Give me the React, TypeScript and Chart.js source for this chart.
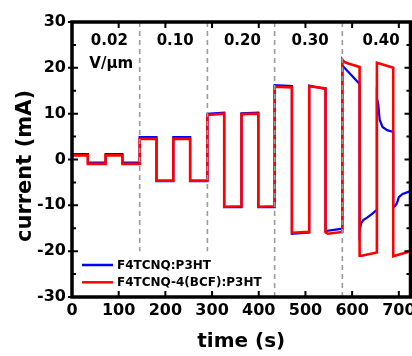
import { useEffect, useRef } from "react";
import { Chart, registerables } from "chart.js";

Chart.register(...registerables);

// ---- data ----
const blueLabel = "F4TCNQ:P3HT";
const redLabel = "F4TCNQ-4(BCF):P3HT";
const xTitle = "time (s)";
const yTitle = "current (mA)";

const blueTime = [
  0, 34, 34, 72, 72, 108, 108, 145,
  145, 181, 181, 217, 217, 253, 253, 290,
  290, 326, 326, 363, 363, 399, 399, 434,
  434, 471, 471, 508, 508, 543, 543, 579,
  579, 616, 616, 619, 624, 632, 640, 653, 653, 656, 659, 665, 675, 688, 688, 692, 696, 700, 708, 725,
];
const blueCurrent = [
  1.2, 1.2, -0.7, -0.7, 1.2, 1.2, -0.7, -0.7,
  4.9, 4.9, -4.75, -4.75, 4.9, 4.9, -4.75, -4.75,
  10.0, 10.2, -10.4, -10.4, 10.1, 10.2, -10.4, -10.4,
  16.2, 16.0, -16.2, -15.9, 16.1, 15.4, -15.6, -15.1,
  20.5, 16.5, -15.5, -14.0, -13.2, -12.7, -12.1, -11.0, 13.5, 12.0, 8.7, 7.1, 6.4, 6.0, -10.4, -10.2, -9.5, -8.2, -7.5, -6.9,
];

const redTime = [
  0, 34, 34, 72, 72, 108, 108, 145,
  145, 181, 181, 217, 217, 253, 253, 290,
  290, 326, 326, 363, 363, 399, 399, 434,
  434, 471, 471, 508, 508, 543, 543, 548, 579,
  579, 583, 590, 616, 616, 620, 653, 653, 688, 688, 725,
];
const redCurrent = [
  0.9, 0.9, -0.95, -0.95, 0.9, 0.9, -0.95, -0.95,
  4.5, 4.5, -4.6, -4.6, 4.5, 4.5, -4.6, -4.6,
  9.7, 10.0, -10.3, -10.2, 9.9, 10.0, -10.3, -10.2,
  15.9, 15.7, -16.0, -15.8, 16.0, 15.5, -15.9, -16.2, -15.8,
  21.8, 21.3, 21.0, 20.2, -21.0, -21.0, -20.3, 21.1, 20.0, -21.1, -20.0,
];

const boundaryTimes = [145, 290, 434, 579];
const boundaryBottoms = [-20, -20, -30, -30];

const fieldLabels = ["0.02", "0.10", "0.20", "0.30", "0.40"];
const fieldLabelTimes = [80, 221, 365, 510, 662];
const fieldLabelCurrent = 25.8;
const unitLabel = "V/µm";
const unitLabelTime = 84;
const unitLabelCurrent = 20.9;

const xTickValues = [0, 100, 200, 300, 400, 500, 600, 700];
const yMajorTicks = [-30, -20, -10, 0, 10, 20, 30];
const yMinorTicks = [-25, -15, -5, 5, 15, 25];

const X_MIN = 0;
const X_MAX = 725;
const Y_MIN = -30;
const Y_MAX = 30;

const FONT = "'DejaVu Sans', sans-serif";

const toPoints = (xs: number[], ys: number[]) => xs.map((x, i) => ({ x, y: ys[i] }));

const decorPlugin = {
  id: "decor",
  afterDatasetsDraw(chart: any) {
    const { ctx, chartArea: a, scales } = chart;
    const x = scales.x;
    const y = scales.y;
    ctx.save();
    // frame
    ctx.strokeStyle = "#000";
    ctx.lineWidth = 3.5;
    ctx.strokeRect(a.left, a.top, a.right - a.left, a.bottom - a.top);
    // ticks
    ctx.lineWidth = 2;
    ctx.beginPath();
    xTickValues.forEach((v) => {
      const px = x.getPixelForValue(v);
      ctx.moveTo(px, a.bottom);
      ctx.lineTo(px, a.bottom - 6);
      ctx.moveTo(px, a.top);
      ctx.lineTo(px, a.top + 6);
    });
    yMajorTicks.forEach((v) => {
      const py = y.getPixelForValue(v);
      ctx.moveTo(a.left - 4, py);
      ctx.lineTo(a.left + 6, py);
      ctx.moveTo(a.right, py);
      ctx.lineTo(a.right - 6, py);
    });
    yMinorTicks.forEach((v) => {
      const py = y.getPixelForValue(v);
      ctx.moveTo(a.left, py);
      ctx.lineTo(a.left + 4, py);
      ctx.moveTo(a.right, py);
      ctx.lineTo(a.right - 4, py);
    });
    ctx.stroke();

    // field labels
    ctx.fillStyle = "#000";
    ctx.font = `bold 15px ${FONT}`;
    ctx.textAlign = "center";
    ctx.textBaseline = "middle";
    fieldLabels.forEach((t, i) => {
      ctx.fillText(t, x.getPixelForValue(fieldLabelTimes[i]), y.getPixelForValue(fieldLabelCurrent));
    });
    ctx.fillText(unitLabel, x.getPixelForValue(unitLabelTime), y.getPixelForValue(unitLabelCurrent));

    // y axis title
    ctx.save();
    ctx.translate(25.5, 166);
    ctx.rotate(-Math.PI / 2);
    ctx.font = `bold 21px ${FONT}`;
    ctx.textAlign = "center";
    ctx.textBaseline = "middle";
    ctx.fillText(yTitle, 0, 0);
    ctx.restore();

    // legend
    const items = chart.data.datasets.filter((d: any) => d.label);
    ctx.font = `bold 12px ${FONT}`;
    ctx.textAlign = "left";
    ctx.textBaseline = "middle";
    items.forEach((d: any, i: number) => {
      const ly = 265 + i * 17.3;
      ctx.strokeStyle = d.borderColor;
      ctx.lineWidth = 2.5;
      ctx.beginPath();
      ctx.moveTo(82, ly);
      ctx.lineTo(113, ly);
      ctx.stroke();
      ctx.fillStyle = "#000";
      ctx.fillText(d.label, 117, ly + 0.5);
    });
    ctx.restore();
  },
};

export default function App() {
  const ref = useRef<HTMLCanvasElement | null>(null);

  useEffect(() => {
    document.body.style.margin = "0";
    if (!ref.current) return;
    const dashed = boundaryTimes.map((t, i) => ({
      type: "line" as const,
      label: "",
      data: [
        { x: t, y: Y_MAX },
        { x: t, y: boundaryBottoms[i] },
      ],
      borderColor: "#9a9a9a",
      borderWidth: 1.6,
      borderDash: [5, 4],
      pointRadius: 0,
      showLine: true,
      order: 0,
    }));
    const chart = new Chart(ref.current, {
      type: "scatter",
      data: {
        datasets: [
          {
            label: blueLabel,
            data: toPoints(blueTime, blueCurrent),
            borderColor: "#0000ff",
            backgroundColor: "#0000ff",
            borderWidth: 2.2,
            pointRadius: 0,
            showLine: true,
            order: 2,
          },
          {
            label: redLabel,
            data: toPoints(redTime, redCurrent),
            borderColor: "#ff0000",
            backgroundColor: "#ff0000",
            borderWidth: 2.6,
            pointRadius: 0,
            showLine: true,
            order: 1,
          },
          ...dashed,
        ] as any,
      },
      options: {
        animation: false,
        responsive: false,
        devicePixelRatio: 1,
        layout: { padding: { top: 22, right: 1.5, left: 0, bottom: 0 } },
        plugins: { legend: { display: false }, tooltip: { enabled: false } },
        scales: {
          x: {
            type: "linear",
            min: X_MIN,
            max: X_MAX,
            grid: { display: false, drawTicks: false },
            border: { display: false },
            afterBuildTicks: (s: any) => {
              s.ticks = xTickValues.map((v) => ({ value: v }));
            },
            afterFit: (s: any) => {
              s.height = 59;
              s.paddingLeft = 0;
              s.paddingRight = 0;
            },
            ticks: {
              color: "#000",
              padding: 4,
              maxRotation: 0,
              font: { family: FONT, size: 16, weight: "bold" },
            },
            title: {
              display: true,
              text: xTitle,
              color: "#000",
              padding: { top: 0, bottom: 2 },
              font: { family: FONT, size: 20, weight: "bold" },
            },
          },
          y: {
            type: "linear",
            min: Y_MIN,
            max: Y_MAX,
            grid: { display: false, drawTicks: false },
            border: { display: false },
            afterBuildTicks: (s: any) => {
              s.ticks = yMajorTicks.map((v) => ({ value: v }));
            },
            afterFit: (s: any) => {
              s.width = 72;
              s.paddingTop = 0;
              s.paddingBottom = 0;
            },
            ticks: {
              color: "#000",
              padding: 6,
              font: { family: FONT, size: 16, weight: "bold" },
            },
            title: { display: false },
          },
        },
      },
      plugins: [decorPlugin],
    });
    return () => chart.destroy();
  }, []);

  return (
    <div style={{ width: 412, height: 356 }}>
      <canvas ref={ref} width={412} height={356} style={{ display: "block" }} />
    </div>
  );
}
